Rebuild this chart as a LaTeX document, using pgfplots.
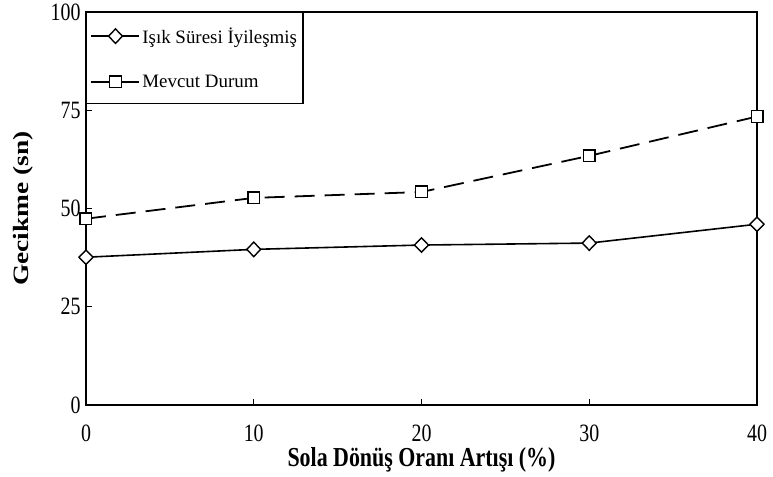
\documentclass[border=0pt]{standalone}
\usepackage{fontspec}
\setmainfont{Liberation Serif}
\usepackage{pgfplots}
\pgfplotsset{compat=1.18}
\begin{document}
\begin{tikzpicture}
\useasboundingbox (-86bp,-72bp) rectangle (687bp,405bp);
\begin{axis}[
  at={(0,0)}, anchor=south west,
  scale only axis, width=671bp, height=393bp,
  xmin=0, xmax=40, ymin=0, ymax=100,
  xtick={0,10,20,30,40}, ytick={0,25,50,75,100},
  tick align=inside, xtick pos=bottom, ytick pos=left,
  major tick length=6bp,
  axis line style={line width=1.6bp},
  every tick/.style={line width=1bp, black},
  /pgf/number format/assume math mode=true,
  ticklabel style={font=\fontsize{20}{22}\selectfont},
  xticklabel={\scalebox{1}[1.25]{\pgfmathprintnumber{\tick}}},
  yticklabel={\scalebox{1}[1.25]{\pgfmathprintnumber{\tick}}},
  xticklabel style={yshift=-20bp, inner ysep=0pt},
  yticklabel style={xshift=-2bp},
  xlabel={\scalebox{1}[1.25]{\textbf{Sola Dönüş Oranı Artışı (\%)}}},
  ylabel={\scalebox{1.25}[1]{\textbf{Gecikme (sn)}}},
  label style={font=\fontsize{22}{24}\selectfont},
  xlabel style={at={(axis description cs:0.5,-0.14)}, anchor=center, inner ysep=0pt},
  ylabel style={at={(axis description cs:-0.094,0.5)}, anchor=center},
  legend style={at={(0,1)}, anchor=north west, draw=black, line width=1.2bp,
    font=\fontsize{19}{21}\selectfont, row sep=26bp, inner xsep=4bp, inner ysep=13bp,
    cells={anchor=west}},
  legend image code/.code={\draw[mark repeat=2,mark phase=2] plot coordinates {(0bp,0bp) (24bp,0bp) (48bp,0bp)};},
]
\addplot[black, line width=1.6bp, mark=diamond*, mark size=7.2bp, mark options={fill=white, solid, line width=1.4bp, xscale=1.3}]
  coordinates {(0,37.6) (10,39.6) (20,40.7) (30,41.2) (40,46.0)};
\addlegendentry{Işık Süresi İyileşmiş}
\addplot[black, line width=1.8bp, dash pattern=on 20bp off 10bp, mark=square*, mark size=5.8bp, mark options={fill=white, solid, line width=1.4bp}, legend image post style={solid}]
  coordinates {(0,47.4) (10,52.7) (20,54.2) (30,63.4) (40,73.4)};
\addlegendentry{Mevcut Durum}
\end{axis}
\end{tikzpicture}
\end{document}
